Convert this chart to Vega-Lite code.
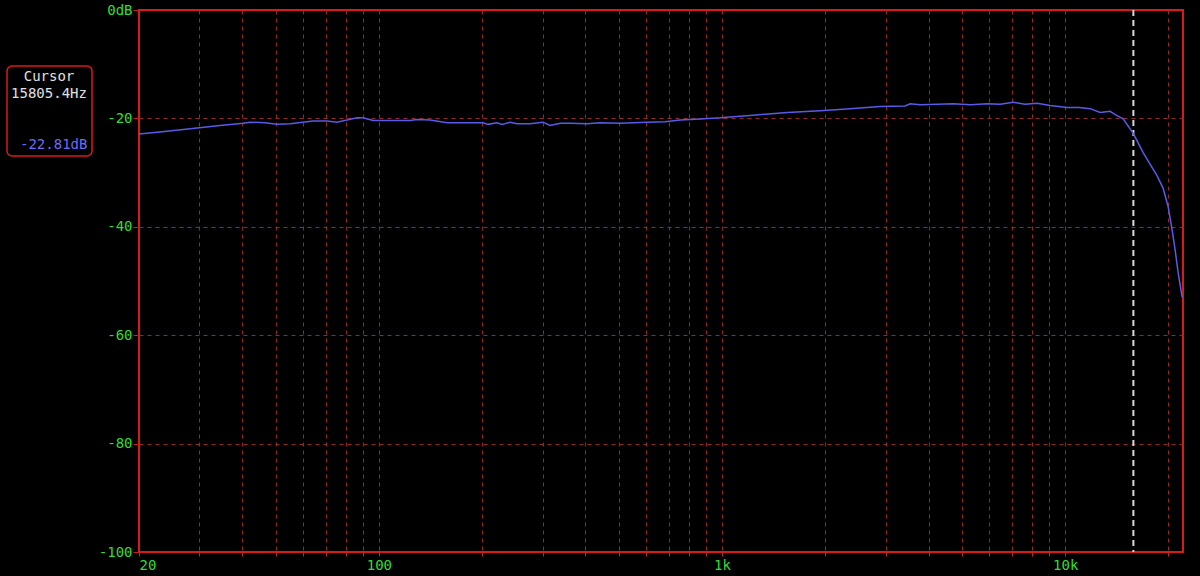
{
  "$schema": "https://vega.github.io/schema/vega-lite/v6.json",
  "width": 1044,
  "height": 542,
  "autosize": {"type": "none"},
  "padding": {"left": 139, "top": 10, "right": 17, "bottom": 24},
  "background": "#000000",
  "config": {
    "view": {"stroke": "#d91a1a", "strokeWidth": 2, "fill": "#000000"},
    "font": "DejaVu Sans Mono",
    "axis": {
      "domain": false,
      "labelFont": "DejaVu Sans Mono",
      "labelFontSize": 14,
      "labelColor": "#33dd33",
      "gridDash": [4, 4],
      "gridColor": "#952828",
      "gridWidth": 1,
      "title": null
    }
  },
  "datasets": {
    "response": [
      {"f": 20, "db": -22.9},
      {"f": 23.0, "db": -22.5},
      {"f": 28.2, "db": -21.9},
      {"f": 34.4, "db": -21.3},
      {"f": 40.2, "db": -20.9},
      {"f": 42.1, "db": -20.7},
      {"f": 46.6, "db": -20.8},
      {"f": 50.5, "db": -21.1},
      {"f": 55.1, "db": -21.0},
      {"f": 64.3, "db": -20.5},
      {"f": 70.6, "db": -20.5},
      {"f": 75.5, "db": -20.7},
      {"f": 86.4, "db": -19.9},
      {"f": 89.9, "db": -19.9},
      {"f": 96.2, "db": -20.4},
      {"f": 107.8, "db": -20.4},
      {"f": 123.3, "db": -20.4},
      {"f": 129.2, "db": -20.2},
      {"f": 141.0, "db": -20.3},
      {"f": 158.0, "db": -20.8},
      {"f": 178.3, "db": -20.8},
      {"f": 201.2, "db": -20.8},
      {"f": 208.0, "db": -21.1},
      {"f": 221.0, "db": -20.8},
      {"f": 228.6, "db": -21.1},
      {"f": 241.2, "db": -20.7},
      {"f": 252.8, "db": -21.0},
      {"f": 275.8, "db": -21.0},
      {"f": 301.0, "db": -20.7},
      {"f": 315.5, "db": -21.3},
      {"f": 338.0, "db": -20.9},
      {"f": 360.8, "db": -20.9},
      {"f": 404.4, "db": -21.0},
      {"f": 441.3, "db": -20.8},
      {"f": 504.6, "db": -20.9},
      {"f": 604.8, "db": -20.7},
      {"f": 682.6, "db": -20.6},
      {"f": 754.9, "db": -20.3},
      {"f": 863.4, "db": -20.1},
      {"f": 987.1, "db": -19.9},
      {"f": 1232, "db": -19.4},
      {"f": 1548, "db": -18.9},
      {"f": 1931, "db": -18.6},
      {"f": 2254, "db": -18.3},
      {"f": 2888, "db": -17.8},
      {"f": 3417, "db": -17.7},
      {"f": 3534, "db": -17.3},
      {"f": 3779, "db": -17.5},
      {"f": 4250, "db": -17.4},
      {"f": 4715, "db": -17.3},
      {"f": 5300, "db": -17.5},
      {"f": 5924, "db": -17.3},
      {"f": 6465, "db": -17.4},
      {"f": 7055, "db": -17.0},
      {"f": 7644, "db": -17.4},
      {"f": 8285, "db": -17.2},
      {"f": 9041, "db": -17.6},
      {"f": 10134, "db": -18.0},
      {"f": 11000, "db": -18.0},
      {"f": 11826, "db": -18.2},
      {"f": 12646, "db": -18.9},
      {"f": 13524, "db": -18.7},
      {"f": 13984, "db": -19.3},
      {"f": 14759, "db": -20.1},
      {"f": 15805.4, "db": -22.81},
      {"f": 16878, "db": -26.3},
      {"f": 17690, "db": -28.5},
      {"f": 18540, "db": -30.6},
      {"f": 19302, "db": -32.9},
      {"f": 19960, "db": -36.3},
      {"f": 20504, "db": -40.6},
      {"f": 20918, "db": -44.3},
      {"f": 21346, "db": -48.5},
      {"f": 21925, "db": -53.0}
    ],
    "cursor": [
      {"f": 15805.4, "db": -22.81, "reading": "-22.81dB"}
    ]
  },
  "layer": [
    {
      "data": {"name": "cursor"},
      "mark": {"type": "rule", "strokeDash": [6, 4], "strokeWidth": 2},
      "encoding": {
        "x": {
          "field": "f",
          "type": "quantitative",
          "scale": {"type": "log", "domain": [20, 22050], "nice": false},
          "axis": {
            "values": [20, 30, 40, 50, 60, 70, 80, 90, 100, 200, 300, 400, 500, 600, 700, 800, 900, 1000, 2000, 3000, 4000, 5000, 6000, 7000, 8000, 9000, 10000, 20000],
            "labelExpr": "datum.value == 20 ? '20' : datum.value == 100 ? '100' : datum.value == 1000 ? '1k' : datum.value == 10000 ? '10k' : ''",
            "labelOverlap": false,
            "labelFlush": true,
            "labelPadding": 2,
            "tickSize": 4,
            "tickColor": "#b03030",
            "gridOpacity": {"condition": {"test": "datum.value == 20", "value": 0}, "value": 1}
          }
        },
        "color": {
          "field": "reading",
          "type": "nominal",
          "scale": {"range": ["#d8d8d8"]},
          "legend": {
            "orient": "none",
            "legendX": -132,
            "legendY": 56,
            "title": ["Cursor", "15805.4Hz"],
            "titleFont": "DejaVu Sans Mono",
            "titleFontSize": 14,
            "titleFontWeight": "normal",
            "titleColor": "#e0e0e0",
            "titleLineHeight": 17,
            "titleAlign": "center",
            "titleAnchor": "middle",
            "titlePadding": 37,
            "labelFont": "DejaVu Sans Mono",
            "labelFontSize": 14,
            "labelColor": "#6b6bff",
            "symbolOpacity": 0,
            "symbolSize": 0,
            "symbolStrokeWidth": 0,
            "labelOffset": -5,
            "padding": 4,
            "strokeColor": "#d91a1a",
            "cornerRadius": 5,
            "fillColor": "#000000",
            "encode": {"legend": {"update": {"strokeWidth": {"value": 1.5}}}}
          }
        }
      }
    },
    {
      "data": {"name": "response"},
      "mark": {"type": "line", "color": "#5a5ae8", "strokeWidth": 1.5},
      "encoding": {
        "x": {"field": "f", "type": "quantitative"},
        "y": {
          "field": "db",
          "type": "quantitative",
          "scale": {"domain": [-100, 0], "nice": false},
          "axis": {
            "values": [0, -20, -40, -60, -80, -100],
            "labelExpr": "datum.value == 0 ? '0dB' : '' + datum.value",
            "tickSize": 6,
            "tickColor": "#c02020",
            "labelPadding": 1,
            "gridOpacity": {"condition": {"test": "datum.value == 0 || datum.value == -100", "value": 0}, "value": 1}
          }
        }
      }
    }
  ]
}
